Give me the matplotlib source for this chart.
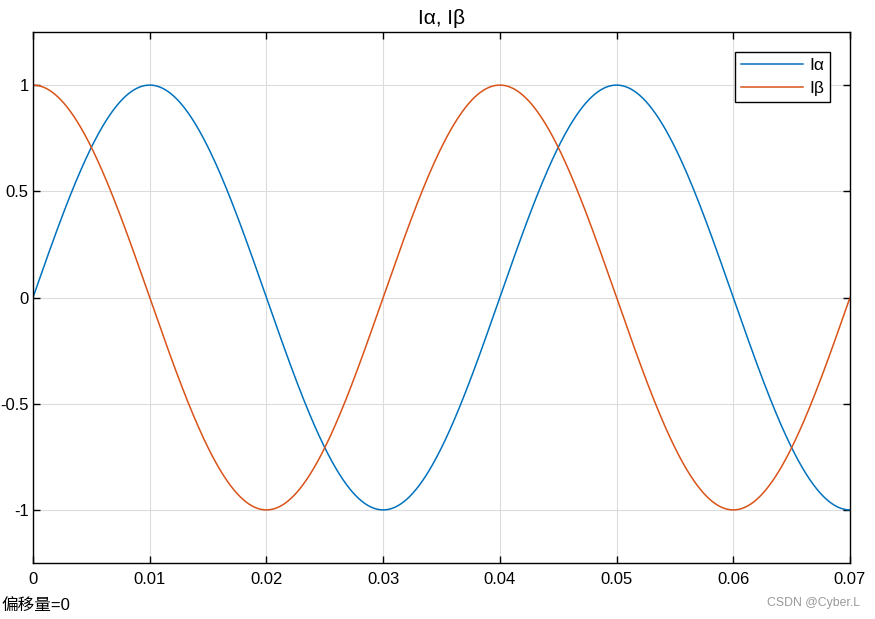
import numpy as np
import matplotlib.pyplot as plt

plt.rcParams['font.family'] = ['Liberation Sans', 'Noto Sans CJK SC', 'DejaVu Sans']

# signal parameters (scope trace of alpha/beta currents)
freq_hz = 25.0
amplitude = 1.0
phase_alpha = 0.0
phase_beta = np.pi / 2
t_end = 0.07
n_samples = 1401

x_ticks = [0, 0.01, 0.02, 0.03, 0.04, 0.05, 0.06, 0.07]
x_tick_labels = ['0', '0.01', '0.02', '0.03', '0.04', '0.05', '0.06', '0.07']
y_ticks = [-1, -0.5, 0, 0.5, 1]
y_tick_labels = ['-1', '-0.5', '0', '0.5', '1']

t = np.linspace(0, t_end, n_samples)
i_alpha = amplitude * np.sin(2 * np.pi * freq_hz * t + phase_alpha)
i_beta = amplitude * np.sin(2 * np.pi * freq_hz * t + phase_beta)

fig = plt.figure(figsize=(8.75, 6.19), dpi=100)
ax = fig.add_axes([33 / 875, 1 - 563 / 619, (850 - 33) / 875, (563 - 32) / 619])

ax.plot(t, i_alpha, color='#0072BD', linewidth=1.1, label='Iα')
ax.plot(t, i_beta, color='#D95319', linewidth=1.1, label='Iβ')

ax.set_xlim(0, t_end)
ax.set_ylim(-1.25, 1.25)
ax.set_xticks(x_ticks)
ax.set_xticklabels(x_tick_labels)
ax.set_yticks(y_ticks)
ax.set_yticklabels(y_tick_labels)
ax.tick_params(direction='in', length=5, width=1, top=True, right=True,
               labelsize=12)
ax.tick_params(axis='y', pad=3)
ax.tick_params(axis='x', pad=6.5)
ax.grid(True, color='#dcdcdc', linewidth=0.8)
for s in ax.spines.values():
    s.set_linewidth(1)

ax.set_title('Iα, Iβ', fontsize=15, pad=6)

leg = ax.legend(loc='upper right', bbox_to_anchor=(0.9755, 0.962), borderaxespad=0,
                fontsize=12.5, fancybox=False, framealpha=1, edgecolor='black',
                handlelength=3.6, handletextpad=0.35, borderpad=0.33,
                labelspacing=0.45)
leg.get_frame().set_linewidth(1)

fig.text(2 / 875, 1 - 605 / 619, '偏移量=0', fontsize=12, va='center', ha='left')
fig.text(860 / 875, 1 - 603 / 619, 'CSDN @Cyber.L', fontsize=8.8, color='#999999',
         va='center', ha='right')

plt.savefig('out.png', dpi=100)
